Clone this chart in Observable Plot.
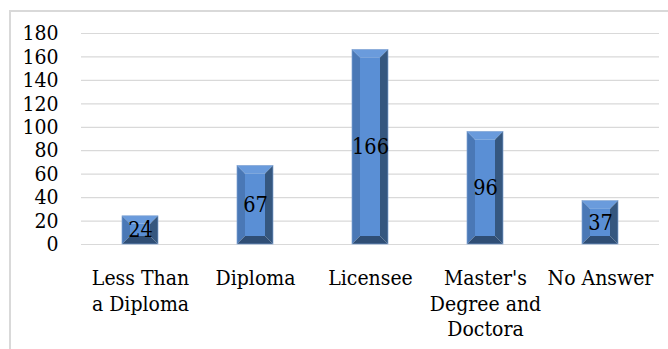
<!DOCTYPE html>
<html>
<head>
<meta charset="utf-8">
<script src="https://cdn.jsdelivr.net/npm/d3@7"></script>
<script src="https://cdn.jsdelivr.net/npm/@observablehq/plot@0.6"></script>
<style>
  html, body { margin: 0; padding: 0; background: #fff; }
  #wrap { position: relative; width: 668px; height: 349px; overflow: hidden; }
  #frame { position: absolute; left: 9px; top: 10px; width: 700px; height: 400px;
           border-top: 2px solid #d9d9d9; border-left: 2px solid #d9d9d9; box-sizing: border-box; }
  #chart { position: absolute; left: 0; top: 0; }
</style>
</head>
<body>
<div id="wrap"><div id="frame"></div><div id="chart"></div></div>
<script>
const categories = ["Less Than\na Diploma", "Diploma", "Licensee", "Master's\nDegree and\nDoctora", "No Answer"];
const values = [24, 67, 166, 96, 37];
const yTicks = [0, 20, 40, 60, 80, 100, 120, 140, 160, 180];

const data = categories.map((c, i) => ({cat: c, value: values[i]}));
const FONT = "'DejaVu Serif Condensed', 'Liberation Serif', serif";

const chart = Plot.plot({
  width: 668,
  height: 349,
  marginLeft: 81,
  marginRight: 9,
  marginTop: 33,
  marginBottom: 105,
  style: {fontFamily: FONT, fontSize: "20px", color: "#000", background: "transparent"},
  x: {domain: categories, paddingInner: 0.69, paddingOuter: 0.345, axis: null},
  y: {domain: [0, 180], axis: null},
  marks: [
    Plot.ruleY(yTicks, {stroke: "#d9d9d9", strokeWidth: 1.2}),
    Plot.text(yTicks, {y: d => d, text: d => String(d), frameAnchor: "left", dx: -23,
      textAnchor: "end", fontSize: 21, fill: "#000"}),
    Plot.barY(data, {x: "cat", y: "value", fill: "#35577f"}),
    Plot.text(data, {x: "cat", y: d => d.value / 2, text: d => String(d.value),
      fontSize: 21.5, fill: "#000"}),
    Plot.text(data, {x: "cat", frameAnchor: "bottom", text: "cat", lineAnchor: "top",
      dy: 22, lineHeight: 1.23, fontSize: 21, fill: "#000"})
  ]
});

// Turn each bar rectangle (positioned by Plot's scales) into a bevelled bar
d3.select(chart).selectAll('g[aria-label="bar"] rect').each(function () {
  const r = d3.select(this);
  const x0 = +r.attr("x"), y0 = +r.attr("y");
  const w = +r.attr("width"), h = +r.attr("height");
  const x1 = x0 + w, y1 = y0 + h;
  const b = Math.min(8, h / 2, w / 2);
  const g = d3.select(this.parentNode).insert("g", () => this);
  const poly = (pts, fill) => g.append("polygon")
    .attr("points", pts.map(p => p.join(",")).join(" ")).attr("fill", fill);
  poly([[x0, y0], [x1, y0], [x1 - b, y0 + b], [x0 + b, y0 + b]], "#6a9bdc");
  poly([[x0, y0], [x0 + b, y0 + b], [x0 + b, y1 - b], [x0, y1]], "#4a78b6");
  poly([[x1, y0], [x1, y1], [x1 - b, y1 - b], [x1 - b, y0 + b]], "#35577f");
  poly([[x0, y1], [x0 + b, y1 - b], [x1 - b, y1 - b], [x1, y1]], "#2f4e75");
  g.append("rect").attr("x", x0 + b).attr("y", y0 + b)
    .attr("width", Math.max(0, w - 2 * b)).attr("height", Math.max(0, h - 2 * b))
    .attr("fill", "#5a8fd5");
  g.append("rect").attr("x", x0).attr("y", y0).attr("width", w).attr("height", h)
    .attr("fill", "none").attr("stroke", "#7fa3d3").attr("stroke-width", 0.7);
  r.remove();
});

document.getElementById("chart").appendChild(chart);
</script>
</body>
</html>
